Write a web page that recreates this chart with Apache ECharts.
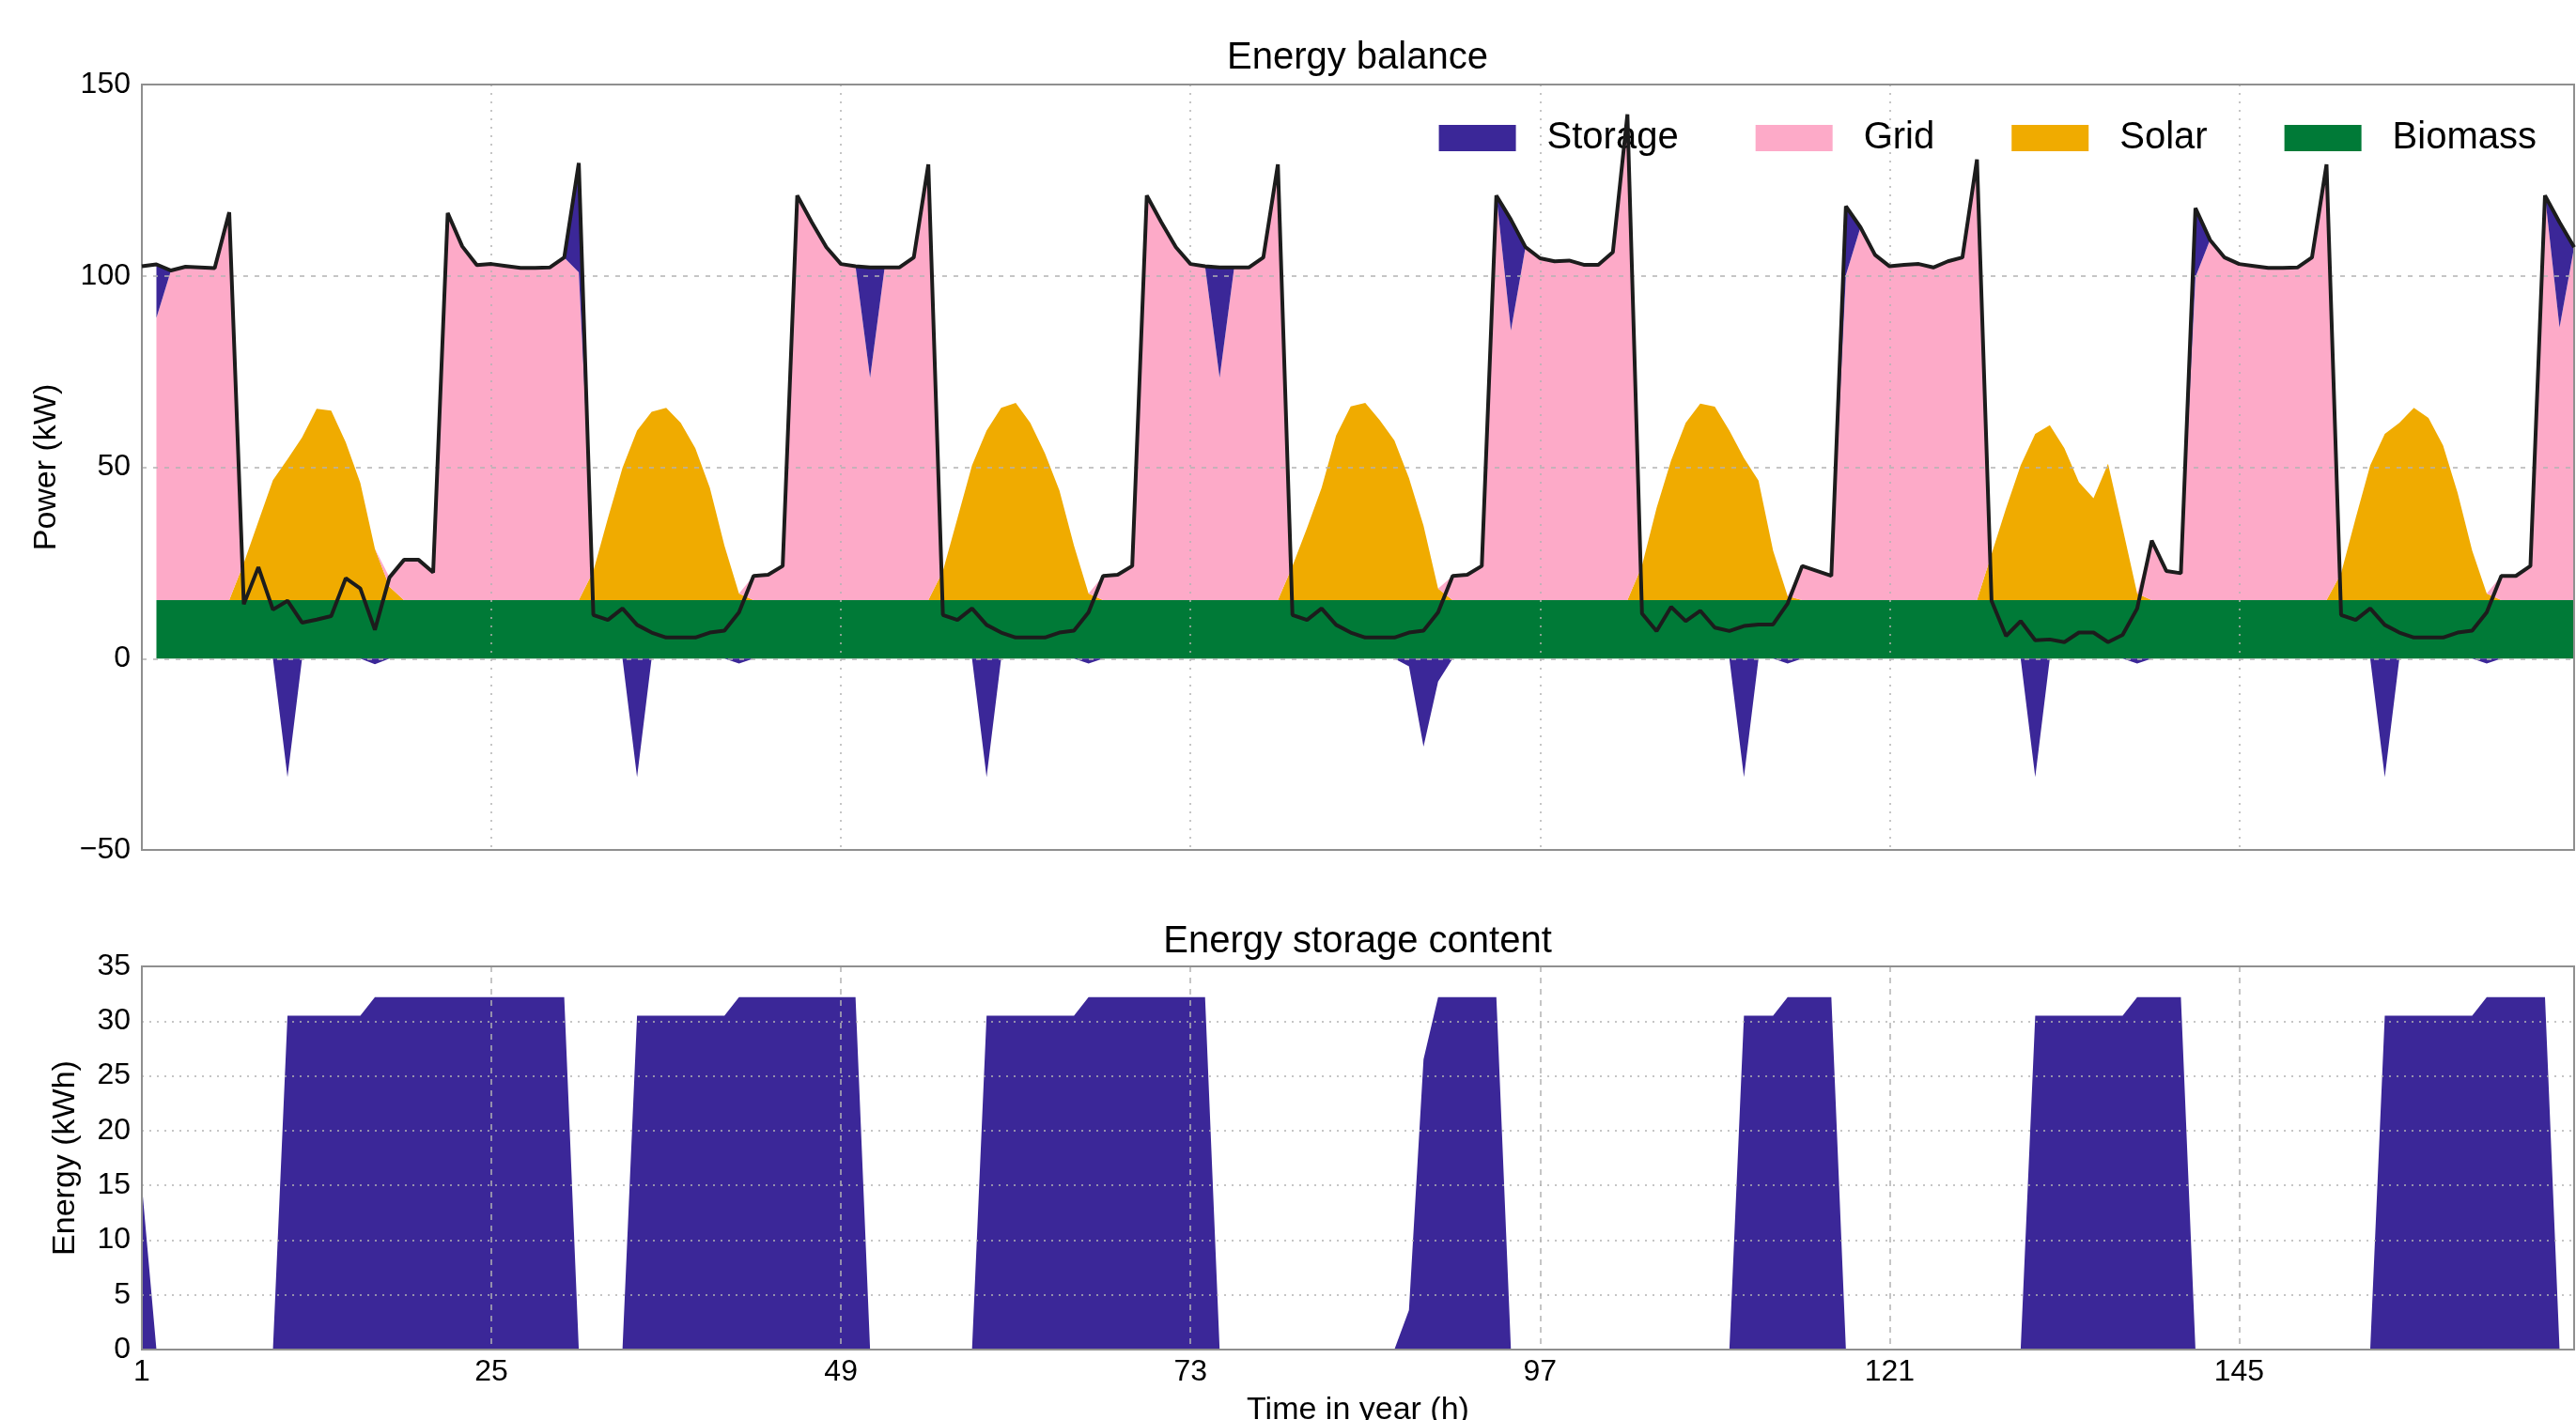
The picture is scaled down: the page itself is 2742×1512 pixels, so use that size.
<!DOCTYPE html>
<html>
<head>
<meta charset="utf-8">
<title>Energy balance</title>
<script src="https://cdn.jsdelivr.net/npm/echarts@6/dist/echarts.min.js"></script>
<style>
html, body { margin: 0; padding: 0; background: #fff; }
#main { width: 2742px; height: 1512px; }
</style>
</head>
<body>
<div id="main"></div>
<script>
// hourly values for one week (hour 1 .. 168), one row per day
var DEMAND = [
	102.5, 103, 101.4, 102.4, 102.2, 102, 116.6, 14.2, 23.9, 12.8, 15.1, 9.4, 10.2, 11.1, 21, 18.3, 7.5, 21.2, 25.8, 25.8, 22.5, 116.4, 107.7, 102.8,
	103.1, 102.6, 102.1, 102.1, 102.2, 104.8, 129.5, 11.4, 10.1, 13.1, 8.8, 6.8, 5.5, 5.5, 5.5, 6.8, 7.3, 12.1, 21.6, 21.9, 24.2, 121, 114, 107.5,
	103.1, 102.5, 102.2, 102.2, 102.2, 104.8, 129.1, 11.4, 10.1, 13.1, 8.8, 6.8, 5.5, 5.5, 5.5, 6.8, 7.3, 12.1, 21.6, 21.9, 24.2, 121, 114, 107.5,
	103.1, 102.5, 102.2, 102.2, 102.2, 104.8, 129.1, 11.4, 10.1, 13.1, 8.8, 6.8, 5.5, 5.5, 5.5, 6.8, 7.3, 12.1, 21.6, 21.9, 24.2, 121, 114.7, 107.5,
	104.6, 103.8, 104, 102.9, 102.9, 106.2, 142.2, 11.8, 7.2, 13.5, 9.8, 12.5, 8.1, 7.2, 8.5, 8.9, 8.9, 14.4, 24.2, 22.9, 21.6, 118.2, 112.7, 105.5,
	102.5, 102.9, 103.1, 102.2, 103.8, 104.8, 130.4, 15.1, 5.9, 9.8, 4.8, 5, 4.3, 6.8, 6.8, 4.3, 6.2, 13.1, 30.8, 22.9, 22.3, 117.7, 109.4, 104.8,
	103.1, 102.6, 102.1, 102.1, 102.2, 104.8, 129.1, 11.4, 10.1, 13.1, 8.8, 6.8, 5.5, 5.5, 5.5, 6.8, 7.3, 12.1, 21.6, 21.6, 24.2, 121, 114, 107.5
];

var BIOMASS = [
	null, 15.3, 15.3, 15.3, 15.3, 15.3, 15.3, 15.3, 15.3, 15.3, 15.3, 15.3, 15.3, 15.3, 15.3, 15.3, 15.3, 15.3, 15.3, 15.3, 15.3, 15.3, 15.3, 15.3,
	15.3, 15.3, 15.3, 15.3, 15.3, 15.3, 15.3, 15.3, 15.3, 15.3, 15.3, 15.3, 15.3, 15.3, 15.3, 15.3, 15.3, 15.3, 15.3, 15.3, 15.3, 15.3, 15.3, 15.3,
	15.3, 15.3, 15.3, 15.3, 15.3, 15.3, 15.3, 15.3, 15.3, 15.3, 15.3, 15.3, 15.3, 15.3, 15.3, 15.3, 15.3, 15.3, 15.3, 15.3, 15.3, 15.3, 15.3, 15.3,
	15.3, 15.3, 15.3, 15.3, 15.3, 15.3, 15.3, 15.3, 15.3, 15.3, 15.3, 15.3, 15.3, 15.3, 15.3, 15.3, 15.3, 15.3, 15.3, 15.3, 15.3, 15.3, 15.3, 15.3,
	15.3, 15.3, 15.3, 15.3, 15.3, 15.3, 15.3, 15.3, 15.3, 15.3, 15.3, 15.3, 15.3, 15.3, 15.3, 15.3, 15.3, 15.3, 15.3, 15.3, 15.3, 15.3, 15.3, 15.3,
	15.3, 15.3, 15.3, 15.3, 15.3, 15.3, 15.3, 15.3, 15.3, 15.3, 15.3, 15.3, 15.3, 15.3, 15.3, 15.3, 15.3, 15.3, 15.3, 15.3, 15.3, 15.3, 15.3, 15.3,
	15.3, 15.3, 15.3, 15.3, 15.3, 15.3, 15.3, 15.3, 15.3, 15.3, 15.3, 15.3, 15.3, 15.3, 15.3, 15.3, 15.3, 15.3, 15.3, 15.3, 15.3, 15.3, 15.3, 15.3
];

var SOLAR = [
	null, 0, 0, 0, 0, 0, 0, 9.7, 20.5, 31.3, 36.8, 42.5, 50, 49.5, 41.2, 30.6, 13.4, 3.5, 0, 0, 0, 0, 0, 0,
	0, 0, 0, 0, 0, 0, 0, 7.6, 21.4, 34.5, 44.3, 49.2, 50.2, 46.3, 39.7, 29.3, 14.2, 1.7, 0, 0, 0, 0, 0, 0,
	0, 0, 0, 0, 0, 0, 0, 7.6, 21.4, 35.2, 44.3, 50.2, 51.5, 46.3, 38.4, 28.6, 14.2, 1.7, 0, 0, 0, 0, 0, 0,
	0, 0, 0, 0, 0, 0, 0, 8.9, 18.8, 29.3, 43, 50.6, 51.5, 47, 41.7, 31.9, 19.4, 3, 0, 0, 0, 0, 0, 0,
	0, 0, 0, 0, 0, 0, 0, 9, 24, 36.5, 46.3, 51.3, 50.5, 44.3, 37.1, 31.2, 12.9, 1, 0, 0, 0, 0, 0, 0,
	0, 0, 0, 0, 0, 0, 0, 12, 24, 35.2, 43.4, 45.7, 39.7, 30.8, 26.6, 35.6, 18.8, 1.7, 0, 0, 0, 0, 0, 0,
	0, 0, 0, 0, 0, 0, 0, 7, 21.4, 35.2, 43.4, 46.3, 50.2, 47.6, 40.4, 28, 12.9, 1.7, 0, 0, 0, 0, 0, 0
];

var GRID = [
	null, 73.7, 86.1, 87.1, 86.9, 86.7, 101.3, 0, 0, 0, 0, 0, 0, 0, 0, 0, 0, 2.4, 10.5, 10.5, 7.2, 101.1, 92.4, 87.5,
	87.8, 87.3, 86.8, 86.8, 86.9, 89.5, 85.6, 0, 0, 0, 0, 0, 0, 0, 0, 0, 0, 0, 6.3, 6.6, 8.9, 105.7, 98.7, 92.2,
	87.8, 87.2, 58.1, 86.9, 86.9, 89.5, 113.8, 0, 0, 0, 0, 0, 0, 0, 0, 0, 0, 0, 6.3, 6.6, 8.9, 105.7, 98.7, 92.2,
	87.8, 87.2, 58.1, 86.9, 86.9, 89.5, 113.8, 0, 0, 0, 0, 0, 0, 0, 0, 0, 0, 0, 6.3, 6.6, 8.9, 105.7, 70.4, 92.2,
	89.3, 88.5, 88.7, 87.6, 87.6, 90.9, 126.9, 0, 0, 0, 0, 0, 0, 0, 0, 0, 0, 0, 8.9, 7.6, 6.3, 84.9, 97.4, 90.2,
	87.2, 87.6, 87.8, 86.9, 88.5, 89.5, 115.1, 0, 0, 0, 0, 0, 0, 0, 0, 0, 0, 0, 15.5, 7.6, 7, 84.4, 94.1, 89.5,
	87.8, 87.3, 86.8, 86.8, 86.9, 89.5, 113.8, 0, 0, 0, 0, 0, 0, 0, 0, 0, 0, 0, 6.3, 6.3, 8.9, 105.7, 71.2, 92.2
];

// storage discharge (stacked on top of the supply)
var STORAGE_OUT = [
	null, 14, 0, 0, 0, 0, 0, 0, 0, 0, 0, 0, 0, 0, 0, 0, 0, 0, 0, 0, 0, 0, 0, 0,
	0, 0, 0, 0, 0, 0, 28.6, 0, 0, 0, 0, 0, 0, 0, 0, 0, 0, 0, 0, 0, 0, 0, 0, 0,
	0, 0, 28.8, 0, 0, 0, 0, 0, 0, 0, 0, 0, 0, 0, 0, 0, 0, 0, 0, 0, 0, 0, 0, 0,
	0, 0, 28.8, 0, 0, 0, 0, 0, 0, 0, 0, 0, 0, 0, 0, 0, 0, 0, 0, 0, 0, 0, 29, 0,
	0, 0, 0, 0, 0, 0, 0, 0, 0, 0, 0, 0, 0, 0, 0, 0, 0, 0, 0, 0, 0, 18, 0, 0,
	0, 0, 0, 0, 0, 0, 0, 0, 0, 0, 0, 0, 0, 0, 0, 0, 0, 0, 0, 0, 0, 18, 0, 0,
	0, 0, 0, 0, 0, 0, 0, 0, 0, 0, 0, 0, 0, 0, 0, 0, 0, 0, 0, 0, 0, 0, 27.5, 0
];

// storage charging (below zero)
var STORAGE_IN = [
	null, 0, 0, 0, 0, 0, 0, 0, 0, 0, -31, 0, 0, 0, 0, 0, -1.5, 0, 0, 0, 0, 0, 0, 0,
	0, 0, 0, 0, 0, 0, 0, 0, 0, 0, -31, 0, 0, 0, 0, 0, 0, -1.3, 0, 0, 0, 0, 0, 0,
	0, 0, 0, 0, 0, 0, 0, 0, 0, 0, -31, 0, 0, 0, 0, 0, 0, -1.3, 0, 0, 0, 0, 0, 0,
	0, 0, 0, 0, 0, 0, 0, 0, 0, 0, 0, 0, 0, 0, 0, -2, -23, -6, 0, 0, 0, 0, 0, 0,
	0, 0, 0, 0, 0, 0, 0, 0, 0, 0, 0, 0, 0, 0, -31, 0, 0, -1.3, 0, 0, 0, 0, 0, 0,
	0, 0, 0, 0, 0, 0, 0, 0, 0, 0, -31, 0, 0, 0, 0, 0, 0, -1.3, 0, 0, 0, 0, 0, 0,
	0, 0, 0, 0, 0, 0, 0, 0, 0, 0, -31, 0, 0, 0, 0, 0, 0, -1.3, 0, 0, 0, 0, 0, 0
];

var CONTENT = [
	15, 0, 0, 0, 0, 0, 0, 0, 0, 0, 30.5, 30.5, 30.5, 30.5, 30.5, 30.5, 32.2, 32.2, 32.2, 32.2, 32.2, 32.2, 32.2, 32.2,
	32.2, 32.2, 32.2, 32.2, 32.2, 32.2, 0, 0, 0, 0, 30.5, 30.5, 30.5, 30.5, 30.5, 30.5, 30.5, 32.2, 32.2, 32.2, 32.2, 32.2, 32.2, 32.2,
	32.2, 32.2, 0, 0, 0, 0, 0, 0, 0, 0, 30.5, 30.5, 30.5, 30.5, 30.5, 30.5, 30.5, 32.2, 32.2, 32.2, 32.2, 32.2, 32.2, 32.2,
	32.2, 32.2, 0, 0, 0, 0, 0, 0, 0, 0, 0, 0, 0, 0, 0, 3.6, 26.5, 32.2, 32.2, 32.2, 32.2, 32.2, 0, 0,
	0, 0, 0, 0, 0, 0, 0, 0, 0, 0, 0, 0, 0, 0, 30.5, 30.5, 30.5, 32.2, 32.2, 32.2, 32.2, 0, 0, 0,
	0, 0, 0, 0, 0, 0, 0, 0, 0, 0, 30.5, 30.5, 30.5, 30.5, 30.5, 30.5, 30.5, 32.2, 32.2, 32.2, 32.2, 0, 0, 0,
	0, 0, 0, 0, 0, 0, 0, 0, 0, 0, 30.5, 30.5, 30.5, 30.5, 30.5, 30.5, 30.5, 32.2, 32.2, 32.2, 32.2, 32.2, 0, 0
];

var HOURS = [];
for (var h = 1; h <= 168; h++) {
	HOURS.push(String(h));
}

var FONT = '"Liberation Sans", Arial, Helvetica, sans-serif';
var C_STORAGE = '#3b2798';
var C_GRID = '#fdaac8';
var C_SOLAR = '#f0ab00';
var C_BIOMASS = '#007a37';
var C_GRIDLINE = '#b3b3b3';

function clean(arr) {
	return arr.map(function (v) { return v == null ? '-' : v; });
}

function areaSeries(name, data, color, stack) {
	return {
		name: name,
		type: 'line',
		xAxisIndex: 0,
		yAxisIndex: 0,
		stack: stack,
		data: clean(data),
		symbol: 'none',
		color: color,
		lineStyle: { width: 0, color: color },
		itemStyle: { color: color },
		areaStyle: { color: color, opacity: 1 },
		z: 2
	};
}

function minusSign(v) {
	return v < 0 ? '\u2212' + Math.abs(v) : String(v);
}

var myChart = echarts.init(document.getElementById('main'));

var option = {
	animation: false,
	backgroundColor: '#ffffff',
	textStyle: { fontFamily: FONT },
	graphic: [
		{
			type: 'text', x: 1445, y: 62,
			style: { text: 'Energy balance', fontSize: 40, fontFamily: FONT, fill: '#000', align: 'center', verticalAlign: 'middle' }
		},
		{
			type: 'text', x: 1445, y: 1003,
			style: { text: 'Energy storage content', fontSize: 40, fontFamily: FONT, fill: '#000', align: 'center', verticalAlign: 'middle' }
		}
	],
	legend: {
		data: ['Storage', 'Grid', 'Solar', 'Biomass'],
		right: 42,
		top: 127,
		padding: 0,
		icon: 'rect',
		itemWidth: 82,
		itemHeight: 28,
		itemGap: 82,
		itemStyle: { borderWidth: 0 },
		textStyle: { fontSize: 40, color: '#000', fontFamily: FONT, padding: [0, 0, 0, 28] }
	},
	grid: [
		{ left: 151, right: 2, top: 90, height: 815, show: true, borderColor: '#8f8f8f', borderWidth: 2,
		  backgroundColor: 'transparent', z: 8, containLabel: false, outerBoundsMode: 'none' },
		{ left: 151, right: 2, top: 1029, height: 408, show: true, borderColor: '#8f8f8f', borderWidth: 2,
		  backgroundColor: 'transparent', z: 8, containLabel: false, outerBoundsMode: 'none' }
	],
	xAxis: [
		{
			type: 'category', gridIndex: 0, data: HOURS, boundaryGap: false, z: 3,
			axisLine: { show: false }, axisTick: { show: false }, axisLabel: { show: false },
			splitLine: { show: true, interval: 23, lineStyle: { color: C_GRIDLINE, width: 1.5, type: [2, 7] } }
		},
		{
			type: 'category', gridIndex: 1, data: HOURS, boundaryGap: false, z: 3,
			axisLine: { show: false }, axisTick: { show: false },
			axisLabel: { interval: 23, fontSize: 32, color: '#000', margin: 8, fontFamily: FONT },
			splitLine: { show: true, interval: 23, lineStyle: { color: C_GRIDLINE, width: 1.5, type: [6, 6] } },
			name: 'Time in year (h)', nameLocation: 'middle', nameGap: 48,
			nameTextStyle: { fontSize: 34, color: '#000', fontFamily: FONT }
		}
	],
	yAxis: [
		{
			type: 'value', gridIndex: 0, min: -50, max: 150, interval: 50, z: 3,
			axisLine: { show: false }, axisTick: { show: false },
			axisLabel: { fontSize: 32, color: '#000', margin: 12, fontFamily: FONT, formatter: minusSign },
			splitLine: { show: true, lineStyle: { color: C_GRIDLINE, width: 1.5, type: [5, 7] } },
			name: 'Power (kW)', nameLocation: 'middle', nameGap: 84,
			nameTextStyle: { fontSize: 34, color: '#000', fontFamily: FONT }
		},
		{
			type: 'value', gridIndex: 1, min: 0, max: 35, interval: 5, z: 3,
			axisLine: { show: false }, axisTick: { show: false },
			axisLabel: { fontSize: 32, color: '#000', margin: 12, fontFamily: FONT },
			splitLine: { show: true, lineStyle: { color: C_GRIDLINE, width: 1.5, type: [2, 6] } },
			name: 'Energy (kWh)', nameLocation: 'middle', nameGap: 64,
			nameTextStyle: { fontSize: 34, color: '#000', fontFamily: FONT }
		}
	],
	series: [
		areaSeries('Biomass', BIOMASS, C_BIOMASS, 'supply'),
		areaSeries('Solar', SOLAR, C_SOLAR, 'supply'),
		areaSeries('Grid', GRID, C_GRID, 'supply'),
		areaSeries('Storage', STORAGE_OUT, C_STORAGE, 'supply'),
		areaSeries('Storage', STORAGE_IN, C_STORAGE, null),
		{
			name: 'Demand',
			type: 'line',
			xAxisIndex: 0,
			yAxisIndex: 0,
			data: DEMAND,
			symbol: 'none',
			lineStyle: { color: '#1c1c1c', width: 4 },
			z: 10
		},
		{
			name: 'Storage content',
			type: 'line',
			xAxisIndex: 1,
			yAxisIndex: 1,
			data: CONTENT,
			symbol: 'none',
			color: C_STORAGE,
			lineStyle: { width: 0, color: C_STORAGE },
			itemStyle: { color: C_STORAGE },
			areaStyle: { color: C_STORAGE, opacity: 1 },
			z: 2
		}
	]
};

myChart.setOption(option);    // 载入图表
</script>
</body>
</html>
